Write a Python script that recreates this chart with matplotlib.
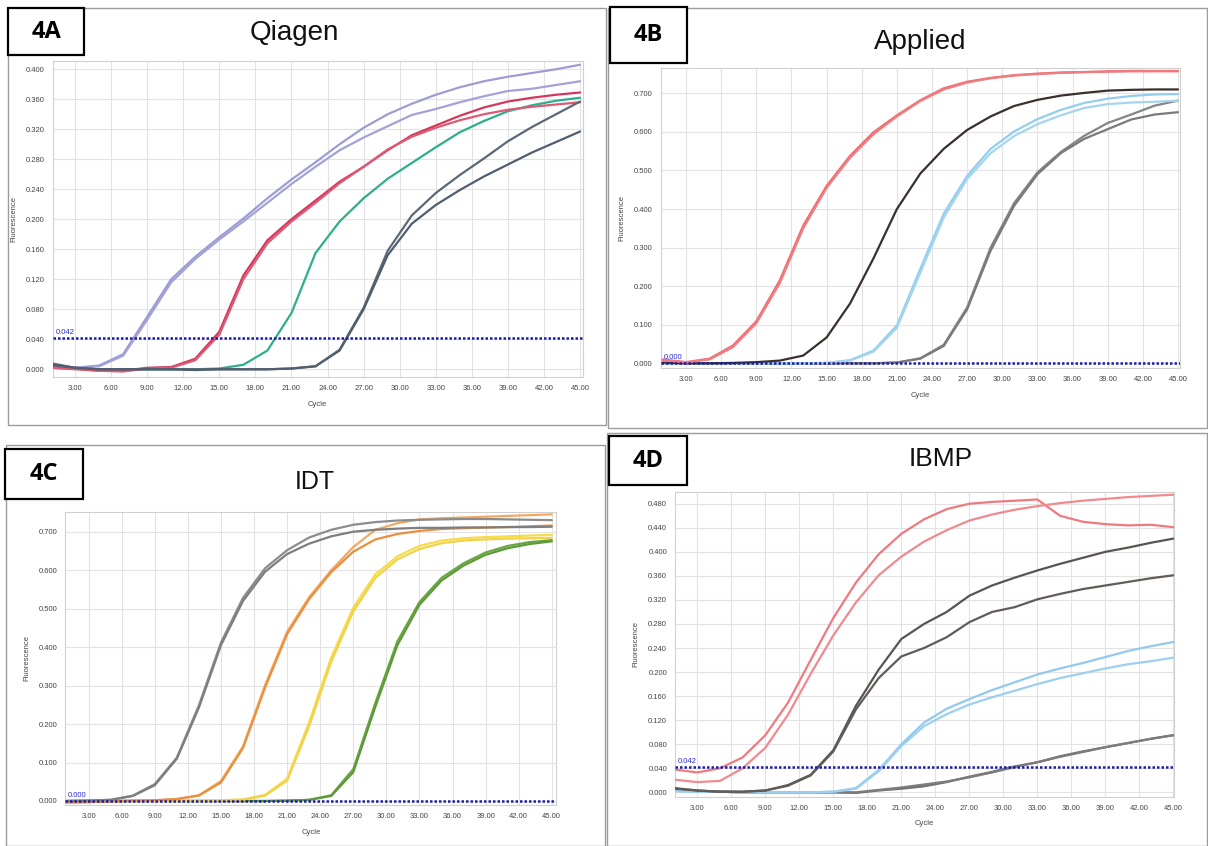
import matplotlib
matplotlib.use("Agg")
import matplotlib.pyplot as plt
from matplotlib.patches import Rectangle

W, H = 1208, 846

# ---------------- data ----------------
cycles = [1, 3, 5, 7, 9, 11, 13, 15, 17, 19, 21, 23, 25, 27, 29, 31, 33, 35, 37, 39, 41, 43, 45]
x_ticks = [3, 6, 9, 12, 15, 18, 21, 24, 27, 30, 33, 36, 39, 42, 45]

# 4A Qiagen
qiagen_purple_1 = [0.006, 0.002, 0.005, 0.020, 0.070, 0.120, 0.150, 0.176, 0.201, 0.228, 0.253, 0.276, 0.300, 0.322, 0.340, 0.354, 0.366, 0.376, 0.384, 0.390, 0.395, 0.400, 0.406]
qiagen_purple_2 = [0.007, 0.002, 0.004, 0.018, 0.066, 0.116, 0.147, 0.173, 0.197, 0.222, 0.247, 0.270, 0.292, 0.309, 0.324, 0.339, 0.347, 0.356, 0.364, 0.371, 0.374, 0.379, 0.384]
qiagen_red_1 = [0.003, 0.001, -0.002, -0.002, 0.002, 0.003, 0.014, 0.050, 0.125, 0.172, 0.200, 0.225, 0.250, 0.270, 0.292, 0.312, 0.325, 0.338, 0.349, 0.357, 0.362, 0.366, 0.369]
qiagen_red_2 = [0.002, 0.000, -0.002, -0.003, 0.001, 0.002, 0.012, 0.046, 0.120, 0.168, 0.197, 0.222, 0.248, 0.270, 0.293, 0.310, 0.322, 0.332, 0.340, 0.346, 0.350, 0.353, 0.356]
qiagen_green = [0.002, 0.001, 0.000, 0.000, 0.000, 0.000, 0.000, 0.001, 0.006, 0.025, 0.075, 0.155, 0.197, 0.228, 0.254, 0.275, 0.296, 0.316, 0.331, 0.344, 0.352, 0.358, 0.362]
qiagen_slate_1 = [0.008, 0.002, 0.000, 0.000, 0.000, 0.000, 0.000, 0.000, 0.000, 0.000, 0.001, 0.004, 0.026, 0.082, 0.158, 0.205, 0.235, 0.259, 0.281, 0.304, 0.323, 0.340, 0.357]
qiagen_slate_2 = [0.006, 0.002, 0.000, 0.000, 0.000, 0.000, -0.001, 0.000, 0.000, 0.000, 0.001, 0.004, 0.025, 0.080, 0.152, 0.194, 0.219, 0.239, 0.257, 0.273, 0.289, 0.303, 0.317]
qiagen_yticks = [0.0, 0.04, 0.08, 0.12, 0.16, 0.20, 0.24, 0.28, 0.32, 0.36, 0.40]
qiagen_threshold = 0.042

# 4B Applied
applied_red_1 = [0.010, 0.003, 0.012, 0.046, 0.109, 0.215, 0.357, 0.460, 0.538, 0.599, 0.643, 0.682, 0.713, 0.730, 0.740, 0.747, 0.751, 0.754, 0.755, 0.757, 0.758, 0.758, 0.758]
applied_red_2 = [0.008, 0.002, 0.010, 0.042, 0.104, 0.208, 0.350, 0.455, 0.533, 0.594, 0.640, 0.680, 0.710, 0.728, 0.739, 0.746, 0.750, 0.753, 0.755, 0.756, 0.757, 0.757, 0.757]
applied_black = [0.002, 0.000, 0.000, 0.001, 0.003, 0.007, 0.020, 0.067, 0.155, 0.272, 0.400, 0.492, 0.556, 0.605, 0.640, 0.667, 0.683, 0.694, 0.701, 0.707, 0.709, 0.710, 0.710]
applied_blue_1 = [0.000, 0.000, 0.000, 0.000, 0.000, 0.000, 0.000, 0.001, 0.008, 0.033, 0.098, 0.245, 0.388, 0.486, 0.556, 0.601, 0.633, 0.657, 0.675, 0.686, 0.693, 0.697, 0.698]
applied_blue_2 = [0.000, 0.000, 0.000, 0.000, 0.000, 0.000, 0.000, 0.001, 0.007, 0.030, 0.092, 0.235, 0.378, 0.478, 0.545, 0.589, 0.620, 0.643, 0.662, 0.672, 0.676, 0.678, 0.681]
applied_gray_1 = [0.000, 0.000, 0.000, 0.000, 0.000, 0.000, 0.000, 0.000, 0.000, 0.000, 0.002, 0.013, 0.048, 0.145, 0.300, 0.415, 0.495, 0.548, 0.590, 0.623, 0.645, 0.668, 0.681]
applied_gray_2 = [0.000, 0.000, 0.000, 0.000, 0.000, 0.000, 0.000, 0.000, 0.000, 0.000, 0.002, 0.012, 0.045, 0.140, 0.292, 0.408, 0.490, 0.545, 0.582, 0.607, 0.632, 0.645, 0.651]
applied_yticks = [0.0, 0.1, 0.2, 0.3, 0.4, 0.5, 0.6, 0.7]
applied_threshold = 0.000

# 4C IDT
idt_gray_1 = [0.000, 0.001, 0.003, 0.014, 0.044, 0.113, 0.249, 0.412, 0.528, 0.605, 0.652, 0.685, 0.705, 0.718, 0.725, 0.729, 0.731, 0.732, 0.733, 0.733, 0.732, 0.731, 0.730]
idt_gray_2 = [0.000, 0.001, 0.003, 0.013, 0.041, 0.110, 0.243, 0.405, 0.520, 0.596, 0.642, 0.669, 0.688, 0.700, 0.705, 0.708, 0.710, 0.710, 0.711, 0.711, 0.712, 0.712, 0.713]
idt_orange_1 = [-0.004, -0.003, -0.001, 0.001, 0.002, 0.005, 0.015, 0.052, 0.142, 0.301, 0.440, 0.530, 0.600, 0.660, 0.705, 0.722, 0.732, 0.735, 0.737, 0.739, 0.741, 0.743, 0.745]
idt_orange_2 = [-0.004, -0.003, -0.001, 0.001, 0.002, 0.005, 0.014, 0.048, 0.138, 0.295, 0.434, 0.525, 0.595, 0.648, 0.680, 0.694, 0.702, 0.707, 0.709, 0.711, 0.712, 0.714, 0.716]
idt_yellow_1 = [0.000, 0.000, 0.000, 0.000, 0.000, 0.000, 0.001, 0.002, 0.004, 0.016, 0.058, 0.205, 0.373, 0.503, 0.589, 0.636, 0.663, 0.677, 0.683, 0.686, 0.688, 0.690, 0.692]
idt_yellow_2 = [0.000, 0.000, 0.000, 0.000, 0.000, 0.000, 0.001, 0.002, 0.003, 0.014, 0.053, 0.195, 0.362, 0.493, 0.580, 0.628, 0.655, 0.670, 0.677, 0.680, 0.682, 0.683, 0.684]
idt_green_1 = [0.000, 0.000, 0.000, 0.000, 0.000, 0.000, 0.000, 0.000, 0.000, 0.000, 0.001, 0.003, 0.015, 0.083, 0.255, 0.415, 0.517, 0.580, 0.618, 0.646, 0.663, 0.673, 0.678]
idt_green_2 = [0.000, 0.000, 0.000, 0.000, 0.000, 0.000, 0.000, 0.000, 0.000, 0.000, 0.001, 0.003, 0.013, 0.075, 0.245, 0.405, 0.510, 0.573, 0.612, 0.640, 0.657, 0.668, 0.675]
idt_yticks = [0.0, 0.1, 0.2, 0.3, 0.4, 0.5, 0.6, 0.7]
idt_threshold = 0.000

# 4D IBMP
ibmp_red_1 = [0.038, 0.033, 0.040, 0.058, 0.095, 0.149, 0.220, 0.290, 0.349, 0.396, 0.430, 0.454, 0.471, 0.480, 0.483, 0.485, 0.487, 0.460, 0.450, 0.446, 0.444, 0.445, 0.441]
ibmp_red_2 = [0.021, 0.017, 0.019, 0.040, 0.074, 0.129, 0.197, 0.261, 0.316, 0.361, 0.392, 0.417, 0.436, 0.452, 0.462, 0.470, 0.476, 0.481, 0.485, 0.488, 0.491, 0.493, 0.495]
ibmp_dgray_1 = [0.007, 0.003, 0.001, 0.001, 0.003, 0.012, 0.029, 0.070, 0.144, 0.204, 0.255, 0.280, 0.300, 0.327, 0.344, 0.357, 0.369, 0.380, 0.390, 0.400, 0.407, 0.415, 0.422]
ibmp_dgray_2 = [0.006, 0.003, 0.001, 0.001, 0.003, 0.011, 0.028, 0.068, 0.138, 0.190, 0.226, 0.240, 0.258, 0.283, 0.300, 0.308, 0.321, 0.330, 0.338, 0.344, 0.350, 0.356, 0.361]
ibmp_blue_1 = [0.002, 0.001, 0.001, 0.000, 0.000, 0.000, 0.000, 0.001, 0.007, 0.037, 0.080, 0.116, 0.139, 0.155, 0.170, 0.183, 0.196, 0.206, 0.215, 0.225, 0.235, 0.243, 0.250]
ibmp_blue_2 = [0.002, 0.001, 0.001, 0.000, 0.000, 0.000, 0.000, 0.001, 0.006, 0.035, 0.077, 0.110, 0.130, 0.146, 0.158, 0.169, 0.180, 0.190, 0.198, 0.206, 0.213, 0.218, 0.224]
ibmp_gray_1 = [0.004, 0.002, 0.001, 0.000, 0.000, 0.000, 0.000, 0.000, -0.001, 0.003, 0.006, 0.010, 0.017, 0.026, 0.034, 0.043, 0.050, 0.060, 0.068, 0.075, 0.082, 0.089, 0.095]
ibmp_gray_2 = [0.003, 0.002, 0.001, 0.000, 0.000, 0.000, 0.000, 0.000, 0.000, 0.004, 0.008, 0.013, 0.018, 0.025, 0.033, 0.042, 0.050, 0.059, 0.067, 0.075, 0.082, 0.089, 0.095]
ibmp_yticks = [0.0, 0.04, 0.08, 0.12, 0.16, 0.20, 0.24, 0.28, 0.32, 0.36, 0.40, 0.44, 0.48]
ibmp_threshold = 0.042

# ---------------- drawing ----------------
plt.rcParams['font.family'] = ['Liberation Sans', 'DejaVu Sans']
fig = plt.figure(figsize=(W / 100, H / 100), dpi=100)
fig.patch.set_facecolor('white')

SMALL = ['Liberation Sans Narrow', 'Liberation Sans', 'DejaVu Sans']


def fig_rect(x0, y0, x1, y1, **kw):
    r = Rectangle((x0 / W, 1 - y1 / H), (x1 - x0) / W, (y1 - y0) / H,
                  transform=fig.transFigure, **kw)
    fig.add_artist(r)


def panel(frame, lbox, label, title, tpos, tsize, axpx, xlim, ylim, yticks,
          thr, thr_text, curves):
    fig_rect(*frame, fill=False, ec='#9c9c9c', lw=1.0, zorder=1)
    fig_rect(*lbox, fill=True, fc='white', ec='black', lw=1.6, zorder=5)
    fig.text((lbox[0] + lbox[2]) / 2 / W, 1 - (lbox[1] + lbox[3]) / 2 / H, label,
             ha='center', va='center', fontsize=17, fontweight='bold', zorder=6,
             family=['Open Sans', 'DejaVu Sans'])
    fig.text(tpos[0] / W, 1 - tpos[1] / H, title, ha='center', va='center',
             fontsize=tsize, color='#111111')
    x0, y0, x1, y1 = axpx
    ax = fig.add_axes([x0 / W, 1 - y1 / H, (x1 - x0) / W, (y1 - y0) / H])
    for ys, col in curves:
        ax.plot(cycles, ys, color=col, lw=1.6, solid_capstyle='round',
                solid_joinstyle='round', zorder=3)
    ax.axhline(thr, color='#1c1ca8', lw=1.8, ls=(0, (1, 0.8)), zorder=4)
    ax.text(xlim[0] + 0.25, thr + (ylim[1] - ylim[0]) * 0.006, thr_text,
            color='#2a2ad0', fontsize=5.5, va='bottom', ha='left', family=SMALL, zorder=5)
    ax.set_xlim(*xlim)
    ax.set_ylim(*ylim)
    ax.set_xticks(x_ticks)
    ax.set_xticklabels([f'{v:.2f}' for v in x_ticks])
    ax.set_yticks(yticks)
    ax.set_yticklabels([f'{v:.3f}' for v in yticks])
    ax.tick_params(axis='both', labelsize=5.5, colors='#444444', length=0, pad=6)
    for lab in ax.get_xticklabels() + ax.get_yticklabels():
        lab.set_family(SMALL)
    ax.grid(True, color='#e3e3e3', lw=0.8)
    ax.set_axisbelow(True)
    for s in ax.spines.values():
        s.set_color('#d0d0d0')
        s.set_linewidth(0.8)
    ax.set_xlabel('Cycle', fontsize=5.5, color='#444444', labelpad=6, family=SMALL)
    ax.set_ylabel('Fluorescence', fontsize=5.5, color='#444444', labelpad=6, family=SMALL)
    return ax


panel((8, 8, 606, 425), (8, 8, 84, 55), '4A', 'Qiagen', (294, 33), 20,
      (52.5, 61, 582.5, 377), (1.13, 45.2), (-0.0103, 0.411), qiagen_yticks,
      qiagen_threshold, '0.042',
      [(qiagen_purple_1, '#9d9dd4'), (qiagen_purple_2, '#a2a2d8'),
       (qiagen_green, '#2fae8c'),
       (qiagen_red_1, '#d3385c'), (qiagen_red_2, '#dc5a74'),
       (qiagen_slate_1, '#5a6878'), (qiagen_slate_2, '#505e6e')])

panel((608, 8, 1207, 428), (610, 7, 687, 63), '4B', 'Applied', (920, 42), 20,
      (661, 68, 1180, 368), (0.86, 45.17), (-0.0122, 0.7656), applied_yticks,
      applied_threshold, '0.000',
      [(applied_gray_1, '#858585'), (applied_gray_2, '#7a7a7a'),
       (applied_blue_1, '#94cdee'), (applied_blue_2, '#a4d4f0'),
       (applied_black, '#3a2f2a'),
       (applied_red_1, '#ee6e72'), (applied_red_2, '#f07c80')])

panel((6, 445, 605, 846), (5, 449, 83, 499), '4C', 'IDT', (315, 482), 18,
      (65.4, 511.7, 556.4, 805), (0.89, 45.42), (-0.0104, 0.752), idt_yticks,
      idt_threshold, '0.000',
      [(idt_green_1, '#6aa743'), (idt_green_2, '#5e9a3a'),
       (idt_yellow_1, '#f6dc4a'), (idt_yellow_2, '#f2d24a'),
       (idt_orange_1, '#f2a865'), (idt_orange_2, '#ec8f3c'),
       (idt_gray_1, '#8c8c8c'), (idt_gray_2, '#7e7e7e')])

panel((607, 433, 1207, 846), (609, 436, 687, 485), '4D', 'IBMP', (941, 459), 19,
      (675.4, 491.7, 1174, 796.7), (1.07, 45.05), (-0.0073, 0.500), ibmp_yticks,
      ibmp_threshold, '0.042',
      [(ibmp_gray_1, '#707070'), (ibmp_gray_2, '#7c7c7c'),
       (ibmp_blue_1, '#92c9ee'), (ibmp_blue_2, '#9ccff0'),
       (ibmp_dgray_1, '#5a5450'), (ibmp_dgray_2, '#625c58'),
       (ibmp_red_1, '#ee7a80'), (ibmp_red_2, '#f08a8e')])

fig.savefig('out.png', dpi=100, facecolor='white')
